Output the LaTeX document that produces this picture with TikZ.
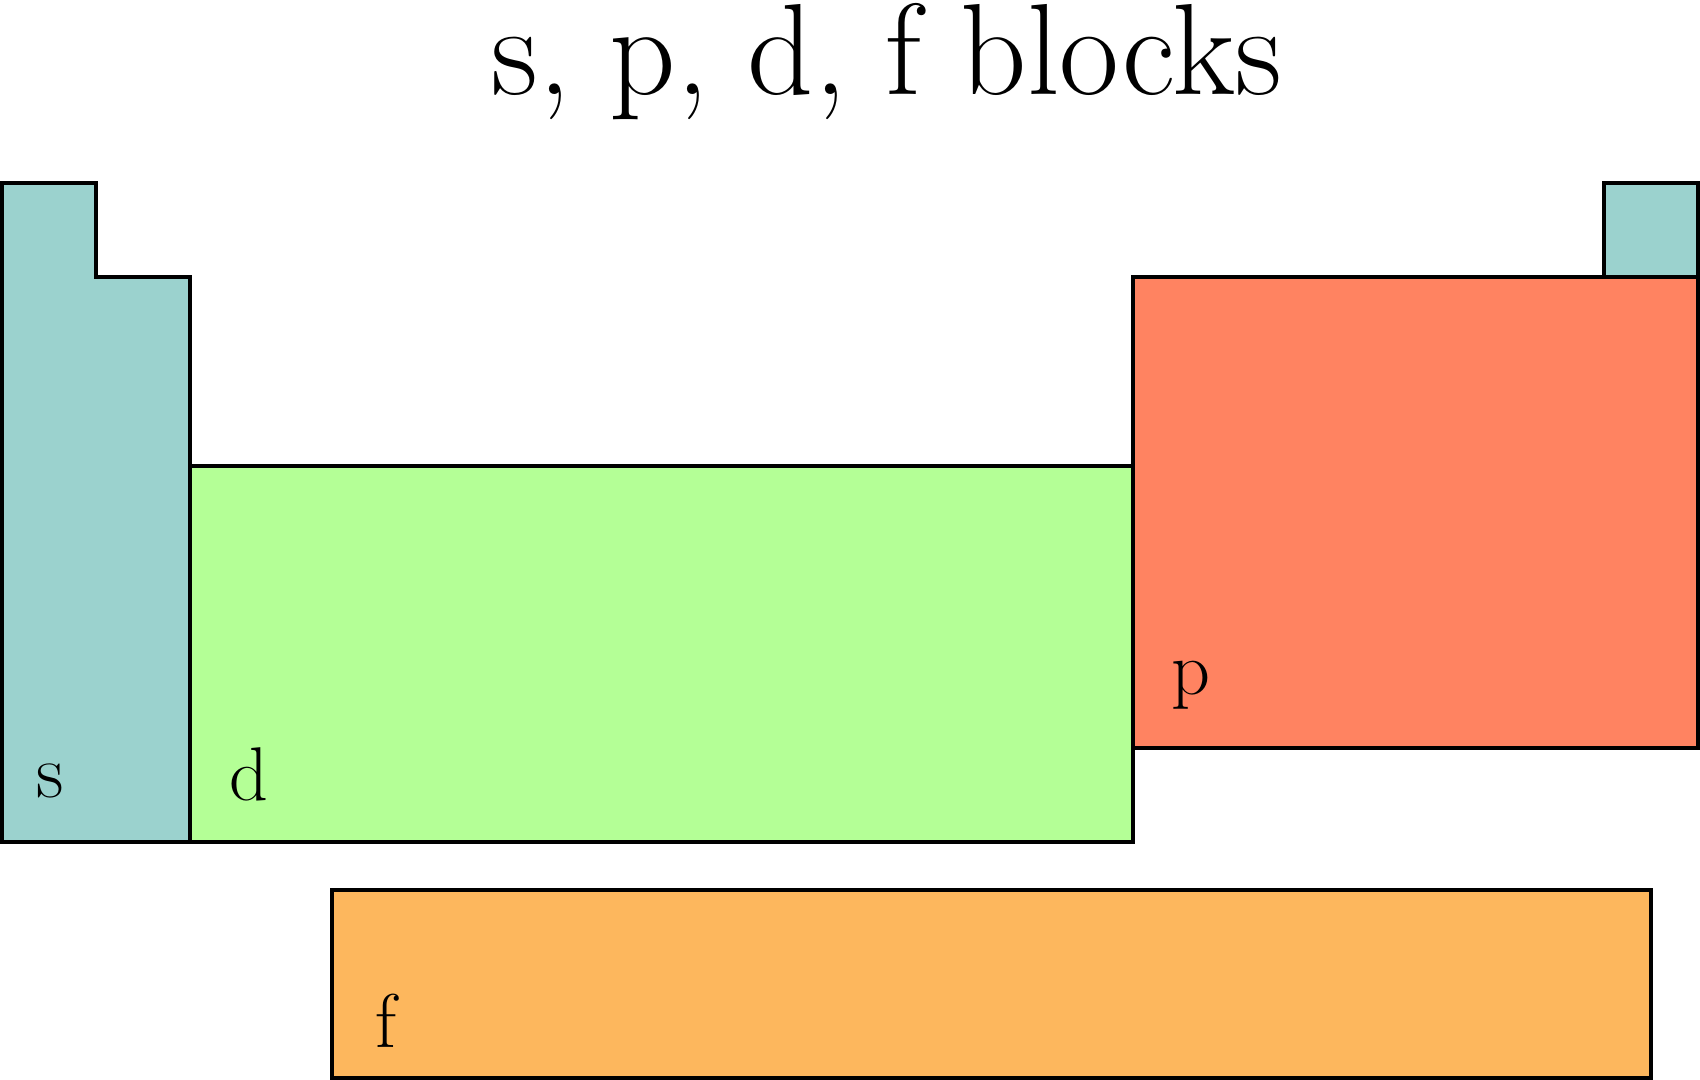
\documentclass[tikz,border=0pt]{standalone}
\usepackage{xcolor}
\usetikzlibrary{positioning}

\definecolor{sblock}{RGB}{155,210,206}
\definecolor{dblock}{RGB}{180,255,150}
\definecolor{pblock}{RGB}{255,131,97}
\definecolor{fblock}{RGB}{253,183,93}

\begin{document}
\begin{tikzpicture}[
	block/.style = {draw = black, line width = 1.2pt},
	lab/.style = {anchor = base west, inner sep = 0pt, font = \fontsize{23}{27}\selectfont},
	every node/.style = {text = black}
	]
	\useasboundingbox (-0.0212, -9.5212) rectangle (18.0212, 1.941);
	
	% title
	\node[anchor = base, inner sep = 0pt, font = \fontsize{39.2}{47}\selectfont] (title) at (9.39, 0.933) {s, p, d, f blocks};
	
	% corners of the blocks
	\coordinate (scorner) at (0, -7);
	\coordinate (dcorner) at (2, -7);
	\coordinate (pcorner) at (12, -6);
	\coordinate (fcorner) at (3.5, -9.5);
	
	% blocks
	\draw[block, fill = sblock] (0, 0) -- (1, 0) -- (1, -1) -- (2, -1) -- (2, -7) -- (scorner) -- cycle;
	\draw[block, fill = sblock] (17, 0) rectangle (18, -1);
	\draw[block, fill = dblock] (dcorner) rectangle (12, -3);
	\draw[block, fill = pblock] (pcorner) rectangle (18, -1);
	\draw[block, fill = fblock] (fcorner) rectangle (17.5, -7.5);
	
	% labels
	\node[lab, xshift = 3.6mm, yshift = 4.8mm] (slab) at (scorner) {s};
	\node[lab, xshift = 4.1mm, yshift = 4.5mm] (dlab) at (dcorner) {d};
	\node[lab, xshift = 4.1mm, yshift = 5.7mm] (plab) at (pcorner) {p};
	\node[lab, xshift = 4.6mm, yshift = 3.2mm] (flab) at (fcorner) {f};
	
\end{tikzpicture}
\end{document}
